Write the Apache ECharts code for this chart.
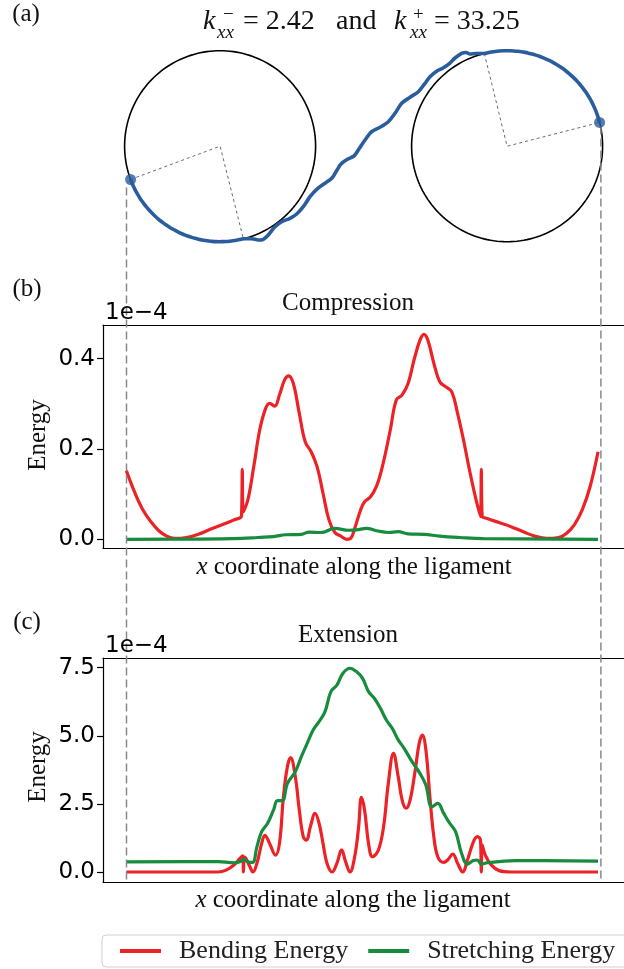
<!DOCTYPE html>
<html>
<head>
<meta charset="utf-8">
<script src="https://cdn.jsdelivr.net/npm/echarts@6/dist/echarts.min.js"></script>
<style>
  html, body { margin: 0; padding: 0; background: #fff; }
  #chart { width: 624px; height: 969px; }
</style>
</head>
<body>
<div id="chart"></div>
<script>
// ---------- (a) ligament wrapped between two cylinders (length units) ----------
const circleCenters = [[0, 0], [287, 0]];
const circleRadius = 95.5;
const leftContactDeg = [200.4, 284.1];   // arc of contact on the left cylinder
const rightContactDeg = [103.8, 14.4];   // arc of contact on the right cylinder
// free (unsupported) span of the ligament between the two contact points
const freeSpan = [
  [23.2, -93.1], [31.6, -92.5], [38.2, -93.8], [43.2, -93.1], [48.2, -88.8],
  [54.9, -80.5], [61.6, -75.5], [69.9, -72.1], [76.6, -67.8], [83.2, -60.5],
  [89.9, -50.5], [96.6, -43.1], [104.9, -37.1], [111.9, -31.8], [116.9, -23.8],
  [120.9, -17.8], [126.9, -13.3], [133.9, -9.8], [138.2, -3.8], [144.9, 6.2],
  [151.6, 14.5], [159.9, 18.9], [168.2, 24.5], [174.9, 32.9], [181.6, 42.9],
  [189.9, 48.9], [198.2, 54.5], [204.9, 62.9], [209.9, 69.5], [216.9, 75.2],
  [222.9, 78.2], [229.6, 82.9], [234.9, 88.2], [241.5, 92.9], [245.9, 93.7],
  [249.9, 92.2], [255.9, 92.7]
];
const ligamentEndX = [-93.6, 380.8];     // x of the two ligament ends
const guideBottomY = -735.8;             // guide lines run down to panel (c)

// ---------- (b) compression, energies in units of 1e-4 ----------
const compBendPos = [0,22,42,62,82,102,122,152,182,212,242,272,291,293,295,307,322,337,352,362,375,387,400,410,422,437,452,467,482,497,512,527,542,557,567,577,592,602,617,632,647,667,682,697,712,727,742,752,762,777,792,807,822,837,852,867,882,895,897,899,912,942,972,1002,1032,1062,1092,1112,1132,1152,1172,1192];
const compBendVal = [0.152,0.102,0.065,0.039,0.019,0.007,0.002,0.004,0.011,0.022,0.032,0.043,0.052,0.155,0.060,0.087,0.161,0.242,0.290,0.301,0.295,0.320,0.353,0.362,0.345,0.279,0.216,0.194,0.161,0.102,0.043,0.015,0.007,0.000,0.002,0.024,0.065,0.083,0.094,0.117,0.161,0.242,0.308,0.320,0.345,0.397,0.441,0.454,0.441,0.390,0.349,0.338,0.327,0.279,0.220,0.154,0.094,0.050,0.155,0.052,0.046,0.037,0.028,0.017,0.007,0.002,0.004,0.013,0.032,0.065,0.117,0.194];
const compStretchPos = [0,182,292,332,372,402,442,462,492,527,562,582,607,632,662,687,712,752,792,842,902,1192];
const compStretchVal = [0,0.0005,0.002,0.004,0.006,0.010,0.011,0.016,0.015,0.024,0.020,0.021,0.024,0.019,0.015,0.017,0.012,0.011,0.007,0.004,0.0015,0];

// ---------- (c) extension, energies in units of 1e-4 ----------
const extBendPos = [0,232,252,272,287,294,296,298,302,312,320,330,342,350,362,377,387,397,407,415,427,437,447,455,465,477,487,497,507,520,532,544,554,565,577,587,594,602,612,622,637,650,662,675,687,697,707,717,730,740,748,757,767,777,787,802,812,825,837,850,862,877,887,895,897,899,907,922,942,972,1192];
const extBendVal = [0,0,0.07,0.26,0.50,0.59,0.00,0.55,0.50,0.20,0.00,0.32,1.05,1.35,1.05,0.62,1.05,2.77,3.87,4.20,3.50,2.28,1.30,1.17,1.66,2.15,1.79,1.05,0.32,0.00,0.32,0.81,0.38,0.00,0.56,1.66,2.74,2.28,1.05,0.56,0.81,1.66,3.25,4.36,3.50,2.64,2.34,2.64,3.74,4.72,5.03,4.48,2.77,1.30,0.56,0.35,0.44,0.66,0.32,0.00,0.44,1.11,1.30,1.17,0.00,1.00,0.62,0.26,0.05,0.00,0.00];
const extStretchPos = [0,232,272,287,297,307,319,330,342,357,372,382,394,407,427,442,457,472,487,502,517,532,547,565,582,597,612,627,642,657,672,687,702,722,742,757,772,787,802,817,832,847,862,877,887,897,912,942,982,1192];
const extStretchVal = [0.37,0.38,0.34,0.38,0.46,0.38,0.35,0.93,1.48,1.79,2.28,2.62,2.62,3.25,3.68,4.23,4.72,5.21,5.52,5.89,6.62,6.86,7.29,7.48,7.35,7.11,6.62,6.37,6.01,5.58,5.27,4.85,4.54,4.05,3.62,3.19,2.39,2.52,2.15,1.79,1.48,0.69,0.29,0.42,0.44,0.29,0.34,0.38,0.42,0.40];

const compTicks = [0, 0.2, 0.4];
const extTicks = [0, 2.5, 5.0, 7.5];
const seriesNames = ['Bending Energy', 'Stretching Energy'];
const panelTitles = ['Compression', 'Extension'];

const RED = '#ec2226', GREEN = '#178c3c', BLUE = '#2a5d9b';
const SERIF = '"Liberation Serif", "Times New Roman", serif';
const SANS = '"DejaVu Sans", sans-serif';

const zip = (xs, ys) => xs.map((x, i) => [x, ys[i]]);
const rad = d => d * Math.PI / 180;
function arc(center, r, a0, a1, n) {
  const pts = [];
  for (let i = 0; i <= n; i++) {
    const a = rad(a0 + (a1 - a0) * i / n);
    pts.push([center[0] + r * Math.cos(a), center[1] + r * Math.sin(a)]);
  }
  return pts;
}
const onCircle = (c, deg) => [c[0] + circleRadius * Math.cos(rad(deg)), c[1] + circleRadius * Math.sin(rad(deg))];

const leftArc = arc(circleCenters[0], circleRadius, leftContactDeg[0], leftContactDeg[1], 40);
const rightArc = arc(circleCenters[1], circleRadius, rightContactDeg[0], rightContactDeg[1], 40);
const ligament = leftArc.concat(freeSpan, rightArc);
const startPt = leftArc[0], endPt = rightArc[rightArc.length - 1];

const chart = echarts.init(document.getElementById('chart'), null, { renderer: 'canvas' });

// the frames are open on the right: the right-hand edge lies past the canvas
const gridB = { left: 103, top: 325, right: -3, height: 223 };
const gridC = { left: 103, top: 658, right: -3, height: 224 };
const xRange = { min: -59, max: 1257.6 };

const frameLine = { show: true, onZero: false, lineStyle: { color: '#000', width: 1.2 } };

function energyY(gridIndex, min, max, ticks) {
  return {
    type: 'value', gridIndex, min, max,
    splitLine: { show: false },
    axisLine: frameLine,
    axisTick: { show: true, length: 6, customValues: ticks, lineStyle: { color: '#000', width: 1.2 } },
    axisLabel: { show: true, customValues: ticks, margin: 8, color: '#000', fontFamily: SANS, fontSize: 23,
      formatter: v => v.toFixed(1) }
  };
}
function plainX(gridIndex, position) {
  return {
    type: 'value', gridIndex, position, min: xRange.min, max: xRange.max,
    axisLine: frameLine,
    axisTick: { show: false }, axisLabel: { show: false }, splitLine: { show: false }
  };
}
const energyLine = (name, color, data, xi) => ({
  name, type: 'line', xAxisIndex: xi, yAxisIndex: xi, data,
  showSymbol: false, smooth: 0.4,
  lineStyle: { color, width: 3.2 }, itemStyle: { color }
});
const sketchLine = (data, style, z) => ({
  type: 'line', xAxisIndex: 0, yAxisIndex: 0, data, showSymbol: false, clip: false,
  silent: true, lineStyle: style, z: z || 2
});

function txt(x, y, text, font, extra) {
  return {
    type: 'text', x, y, silent: true, z: 50,
    style: Object.assign({ text, font, fill: '#111', textAlign: 'center', textVerticalAlign: 'middle',
      align: 'center', verticalAlign: 'middle' }, (extra || {}))
  };
}

const option = {
  animation: false,
  backgroundColor: '#fff',
  grid: [
    { left: 0, top: 0, width: 624, height: 300, show: false },
    gridB,
    gridC
  ],
  xAxis: [
    { type: 'value', gridIndex: 0, min: -220.1, max: 403.9, show: false },
    plainX(1, 'bottom'), plainX(2, 'bottom'),
    plainX(1, 'top'), plainX(2, 'top')
  ],
  yAxis: [
    { type: 'value', gridIndex: 0, min: -153.8, max: 146.2, show: false },
    energyY(1, -0.0193, 0.4746, compTicks),
    energyY(2, -0.367, 7.856, extTicks)
  ],
  legend: {
    data: seriesNames, left: 102, top: 935, width: 640, orient: 'horizontal',
    icon: 'rect', itemWidth: 41, itemHeight: 4, itemGap: 20,
    padding: [3, 30, 3, 18],
    borderColor: '#cfcfcf', borderWidth: 1, borderRadius: 4, backgroundColor: '#fff',
    textStyle: { fontFamily: SERIF, fontSize: 26, color: '#222', padding: [0, 0, 0, 13] }
  },
  series: [
    // cylinders
    sketchLine(arc(circleCenters[0], circleRadius, 0, 360, 180), { color: '#000', width: 1.6 }),
    sketchLine(arc(circleCenters[1], circleRadius, 0, 360, 180), { color: '#000', width: 1.6 }),
    // contact radii
    sketchLine([onCircle(circleCenters[0], leftContactDeg[0]), circleCenters[0], onCircle(circleCenters[0], leftContactDeg[1])],
      { color: '#444', width: 0.8, type: [3, 3] }),
    sketchLine([onCircle(circleCenters[1], rightContactDeg[0]), circleCenters[1], onCircle(circleCenters[1], rightContactDeg[1])],
      { color: '#444', width: 0.8, type: [3, 3] }),
    // guide lines from the ligament ends down through (b) and (c)
    sketchLine([[ligamentEndX[0], startPt[1] - 8], [ligamentEndX[0], guideBottomY]],
      { color: '#888', width: 1.5, type: [8, 4] }, 20),
    sketchLine([[ligamentEndX[1], endPt[1] - 4], [ligamentEndX[1], guideBottomY]],
      { color: '#888', width: 1.5, type: [8, 4] }, 20),
    // ligament
    Object.assign(sketchLine(ligament, { color: BLUE, width: 3.6 }, 30), { smooth: 0.3 }),
    {
      type: 'scatter', xAxisIndex: 0, yAxisIndex: 0, data: [startPt, endPt], symbolSize: 11,
      itemStyle: { color: BLUE }, silent: true, z: 31, clip: false
    },
    // (b) compression
    energyLine(seriesNames[0], RED, zip(compBendPos, compBendVal), 1),
    energyLine(seriesNames[1], GREEN, zip(compStretchPos, compStretchVal), 1),
    // (c) extension
    energyLine(seriesNames[0], RED, zip(extBendPos, extBendVal), 2),
    energyLine(seriesNames[1], GREEN, zip(extStretchPos, extStretchVal), 2)
  ],
  graphic: [
    txt(26, 14, '(a)', '25px ' + SERIF),
    txt(27, 289, '(b)', '25px ' + SERIF),
    txt(27, 622, '(c)', '25px ' + SERIF),
    // heading of (a)
    txt(203, 22, 'k', 'italic 28px ' + SERIF, { textAlign: 'left', align: 'left' }),
    txt(223, 15, '\u2212', '19px ' + SERIF, { textAlign: 'left', align: 'left' }),
    txt(217, 33, 'xx', 'italic 19px ' + SERIF, { textAlign: 'left', align: 'left' }),
    txt(243, 22, '= 2.42', '28px ' + SERIF, { textAlign: 'left', align: 'left' }),
    txt(336, 22, 'and', '28px ' + SERIF, { textAlign: 'left', align: 'left' }),
    txt(394, 22, 'k', 'italic 28px ' + SERIF, { textAlign: 'left', align: 'left' }),
    txt(413, 15, '+', '19px ' + SERIF, { textAlign: 'left', align: 'left' }),
    txt(410, 33, 'xx', 'italic 19px ' + SERIF, { textAlign: 'left', align: 'left' }),
    txt(434, 22, '= 33.25', '28px ' + SERIF, { textAlign: 'left', align: 'left' }),
    // panel titles
    txt(348, 303, panelTitles[0], '25px ' + SERIF),
    txt(348, 635, panelTitles[1], '25px ' + SERIF),
    // scale factors
    txt(105, 313, '1e\u22124', '23px ' + SANS, { textAlign: 'left', align: 'left', fill: '#000' }),
    txt(105, 646, '1e\u22124', '23px ' + SANS, { textAlign: 'left', align: 'left', fill: '#000' }),
    // axis names
    Object.assign(txt(38, 435, 'Energy', '25px ' + SERIF), { rotation: Math.PI / 2 }),
    Object.assign(txt(38, 767, 'Energy', '25px ' + SERIF), { rotation: Math.PI / 2 }),
    txt(354, 567, '{i|x} coordinate along the ligament', '25px ' + SERIF,
      { rich: { i: { fontStyle: 'italic', fontFamily: SERIF, fontSize: 25 } } }),
    txt(353, 900, '{i|x} coordinate along the ligament', '25px ' + SERIF,
      { rich: { i: { fontStyle: 'italic', fontFamily: SERIF, fontSize: 25 } } })
  ]
};
chart.setOption(option);
</script>
</body>
</html>
